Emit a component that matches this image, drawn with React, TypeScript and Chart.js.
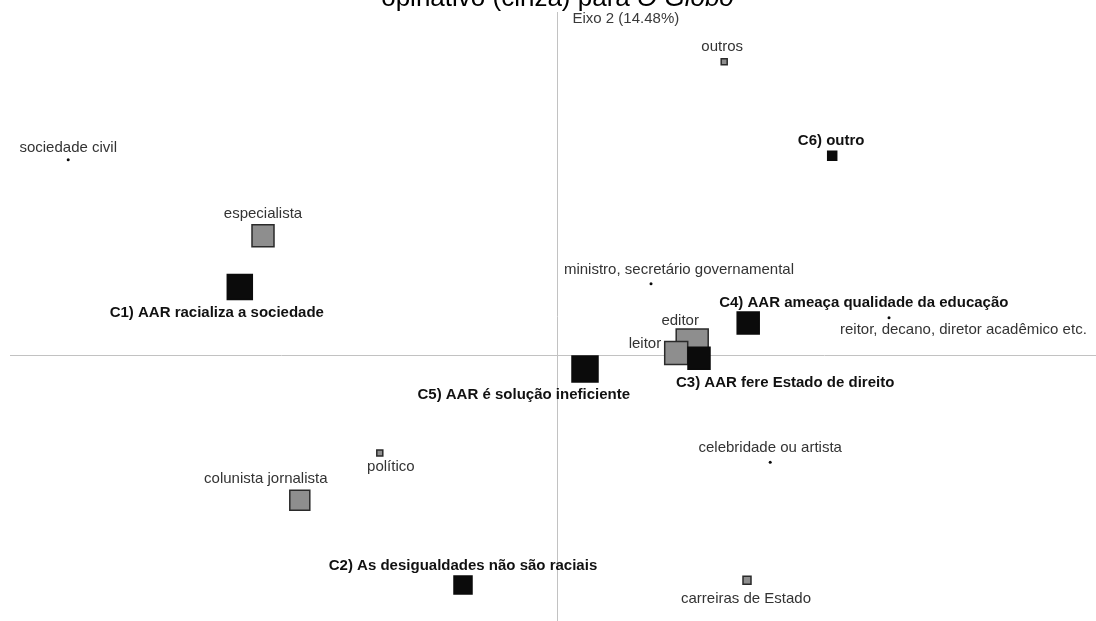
import React, { useEffect, useRef } from "react";
import { Chart, registerables } from "chart.js";

Chart.register(...registerables);

// Correspondence map: author types (grey) and argument categories (black)
const categorias = [
  "sociedade civil",
  "outros",
  "C6) outro",
  "especialista",
  "C1) AAR racializa a sociedade",
  "ministro, secretário governamental",
  "C4) AAR ameaça qualidade da educação",
  "reitor, decano, diretor acadêmico etc.",
  "editor",
  "leitor",
  "C3) AAR fere Estado de direito",
  "C5) AAR é solução ineficiente",
  "político",
  "colunista jornalista",
  "C2) As desigualdades não são raciais",
  "celebridade ou artista",
  "carreiras de Estado",
];

const grupo = [
  "autor", "autor", "argumento", "autor", "argumento", "autor", "argumento",
  "autor", "autor", "autor", "argumento", "argumento", "autor", "autor",
  "argumento", "autor", "autor",
];

// Coordinates on axis 1 and axis 2
const eixo1 = [
  -1.222, 0.418, 0.688, -0.735, -0.793, 0.235, 0.478, 0.83, 0.338, 0.298,
  0.355, 0.07, -0.443, -0.643, -0.235, 0.533, 0.475,
];
const eixo2 = [
  0.488, 0.733, 0.498, 0.298, 0.17, 0.178, 0.08, 0.093, 0.025, 0.005,
  -0.008, -0.035, -0.245, -0.363, -0.575, -0.268, -0.563,
];

// Relative weight (marker side)
const peso = [3, 6, 9, 22, 25, 3, 22, 3, 32, 23, 22, 26, 6, 20, 18, 3, 8];

const rotuloEixo2 = "Eixo 2 (14.48%)";

// Label placement relative to each marker
const rotDx = [0, -2, -1, 0, -23, 28, -29, -49, -12, -15, -23, 45, 11, -34, 0, 0, -1];
const rotDy = [-12, -15, -15, -22, 26, -14, -20, 12, -24, -9, 25, 26, 14, -21, -19, -14, 19];
const rotAlign: CanvasTextAlign[] = [
  "center", "center", "center", "center", "center", "center", "left", "left",
  "center", "right", "left", "right", "center", "center", "center", "center", "center",
];

const FONT = "'Liberation Sans', Arial, sans-serif";

const mapPlugin = {
  id: "mapaCorrespondencia",
  beforeDatasetsDraw(chart: any) {
    const { ctx } = chart;
    const xs = chart.scales.x;
    const ys = chart.scales.y;
    const x0 = Math.round(xs.getPixelForValue(0)) + 0.5;
    const y0 = Math.round(ys.getPixelForValue(0)) + 0.5;
    ctx.save();
    ctx.strokeStyle = "#c2c2c2";
    ctx.lineWidth = 1;
    ctx.beginPath();
    ctx.moveTo(x0, 12);
    ctx.lineTo(x0, chart.height);
    ctx.moveTo(10, y0);
    ctx.lineTo(chart.width, y0);
    ctx.stroke();

    // axis label
    ctx.fillStyle = "#3a3a3a";
    ctx.font = `15px ${FONT}`;
    ctx.textAlign = "left";
    ctx.textBaseline = "middle";
    ctx.fillText(rotuloEixo2, x0 + 15, 19);

    // title, running off the top edge
    ctx.fillStyle = "#000";
    ctx.textBaseline = "alphabetic";
    const partA = "opinativo (cinza) para ";
    const partB = "O Globo";
    ctx.font = `26px ${FONT}`;
    const wA = ctx.measureText(partA).width;
    ctx.font = `italic 26px ${FONT}`;
    const wB = ctx.measureText(partB).width;
    const start = x0 - (wA + wB) / 2;
    ctx.font = `26px ${FONT}`;
    ctx.fillText(partA, start, 6);
    ctx.font = `italic 26px ${FONT}`;
    ctx.fillText(partB, start + wA, 6);
    ctx.restore();
  },
  afterDatasetsDraw(chart: any) {
    const { ctx } = chart;
    const meta = chart.getDatasetMeta(0);
    ctx.save();
    ctx.textBaseline = "middle";
    meta.data.forEach((pt: any, i: number) => {
      const bold = grupo[i] === "argumento";
      ctx.font = `${bold ? "bold " : ""}15px ${FONT}`;
      ctx.fillStyle = bold ? "#111" : "#333";
      ctx.textAlign = rotAlign[i];
      ctx.fillText(categorias[i], pt.x + rotDx[i], pt.y + rotDy[i]);
    });
    ctx.restore();
  },
};

export default function App() {
  const ref = useRef<HTMLCanvasElement>(null);

  useEffect(() => {
    if (!ref.current) return;
    const isDot = (i: number) => peso[i] < 4;
    const chart = new Chart(ref.current, {
      type: "scatter",
      data: {
        datasets: [
          {
            data: eixo1.map((x, i) => ({ x, y: eixo2[i] })),
            pointStyle: categorias.map((_, i) => (isDot(i) ? "circle" : "rect")) as any,
            pointRadius: peso.map((p, i) => (isDot(i) ? 1.5 : p / (2 * Math.SQRT1_2))),
            pointBackgroundColor: grupo.map((g, i) =>
              isDot(i) || g === "argumento" ? "#0b0b0b" : "#8e8e8e"
            ),
            pointBorderColor: grupo.map((g) => (g === "argumento" ? "#0b0b0b" : "#2a2a2a")),
            pointBorderWidth: peso.map((p, i) => (isDot(i) ? 0 : 1.5)),
            showLine: false,
          },
        ],
      },
      options: {
        responsive: false,
        animation: false,
        layout: { padding: 0, autoPadding: false },
        plugins: {
          legend: { display: false },
          tooltip: { enabled: false },
        },
        scales: {
          x: { type: "linear", display: false, min: -1.3925, max: 1.3475 },
          y: { type: "linear", display: false, min: -0.665, max: 0.8875 },
        },
      },
      plugins: [mapPlugin],
    });
    return () => chart.destroy();
  }, []);

  return (
    <div style={{ position: "fixed", left: 0, top: 0, width: 1096, height: 621, background: "#fff" }}>
      <canvas ref={ref} width={1096} height={621} />
    </div>
  );
}
